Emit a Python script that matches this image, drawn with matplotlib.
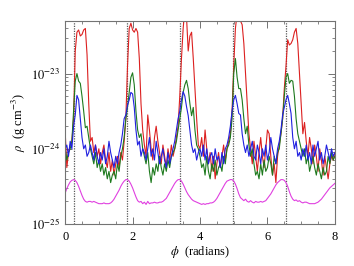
import numpy as np
import matplotlib
matplotlib.use("Agg")
import matplotlib.pyplot as plt
from matplotlib.ticker import FixedLocator, MultipleLocator, NullFormatter

plt.rcParams["font.family"] = ["Liberation Serif", "DejaVu Serif"]
plt.rcParams["mathtext.fontset"] = "stix"

# azimuthal angle grid (radians)
phi = np.linspace(0.0, 8.0, 161)

# positions of the spiral-arm crossings (dotted lines)
arm_phi = [0.27, 1.84, 3.41, 4.98, 6.55]

# y-axis decades
y_major = [1e-25, 1e-24, 1e-23]

# log10 density
log_red = [
    -23.76, -24.25, -24.05, -23.95, -23.9, -23.6,
    -22.7, -22.45, -22.42, -22.5, -22.48, -22.42, -22.4, -22.75, -23.4, -23.9,
    -23.85, -24.05, -23.95, -24.1, -24.0, -24.2, -24.05, -23.95, -24.15, -24.25,
    -24.05, -24.3, -24.15, -24.35, -24.2, -24.1, -24.25, -24.05, -24.15, -23.9,
    -23.6, -22.9, -22.4, -22.33, -22.42, -22.45, -22.4, -22.45, -22.8, -23.4, -23.75,
    -23.95, -24.1, -23.55, -23.75, -24.0, -24.15, -23.85, -23.7, -23.9, -24.05,
    -24.2, -23.95, -24.1, -24.25, -24.0, -24.15, -23.95, -24.1, -24.0, -23.85, -23.7,
    -23.3, -22.8, -22.4, -22.15, -22.25, -22.7, -22.5, -22.45, -22.8, -23.2, -23.6, -23.95,
    -24.0, -23.85, -24.1, -23.75, -24.0, -24.2, -24.05, -24.3, -24.1, -24.4,
    -24.2, -24.05, -24.25, -24.1, -23.95, -24.15, -24.0, -23.9, -23.8,
    -23.5, -22.9, -22.4, -22.2, -22.25, -22.3, -22.35, -22.6, -23.0, -23.4, -23.8,
    -24.0, -24.2, -23.9, -24.1, -24.3, -24.05, -23.85, -24.1, -24.25, -24.0,
    -23.75, -23.8, -24.1, -24.35, -24.2, -24.45, -24.1, -23.95, -23.8, -23.6,
    -23.2, -22.9, -22.55, -22.62, -22.6, -22.55, -22.45, -22.4, -22.6, -23.0, -23.4,
    -23.8, -23.65, -23.9, -24.1, -23.85, -24.0, -24.2, -23.95, -24.1, -24.3,
    -24.0, -24.15, -24.35, -24.1, -24.25, -24.4, -24.2, -24.1, -24.15, -24.05,
]

log_green = [
    -24.0, -24.15, -24.05, -24.0, -23.9, -23.5,
    -23.1, -23.0, -23.1, -23.13, -23.3, -23.5, -23.72, -23.7, -23.85, -24.0,
    -24.1, -24.2, -24.05, -24.25, -24.15, -24.3, -24.2, -24.35, -24.25, -24.4,
    -24.3, -24.45, -24.35, -24.3, -24.4, -24.2, -24.3, -24.1, -24.0, -23.85,
    -23.6, -23.45, -23.25, -23.05, -22.99, -23.15, -23.5, -23.75, -23.85, -23.8, -24.0,
    -24.1, -24.2, -24.05, -24.3, -24.45, -24.25, -24.35, -24.2, -24.3, -24.1,
    -24.25, -24.35, -24.2, -24.3, -24.15, -24.25, -24.1, -24.05, -24.0, -23.9, -23.75,
    -23.6, -23.45, -23.25, -23.15, -23.09, -23.2, -23.4, -23.56, -23.45, -23.75, -23.95, -24.0,
    -24.1, -24.25, -24.2, -24.35, -24.1, -24.3, -24.4, -24.2, -24.3, -24.15,
    -24.35, -24.25, -24.2, -24.3, -24.1, -24.2, -24.0, -23.95, -23.85,
    -23.6, -23.0, -22.8, -23.05, -23.2, -23.2, -23.35, -23.6, -23.8, -23.7, -23.95,
    -24.1, -24.0, -24.2, -24.35, -24.3, -24.4, -24.2, -24.35, -24.15, -24.3,
    -24.25, -24.1, -24.2, -24.35, -24.1, -24.2, -24.05, -24.0, -23.8, -23.6,
    -23.3, -23.05, -23.0, -23.13, -23.09, -23.1, -23.3, -23.6, -23.8, -23.9, -24.0,
    -24.1, -24.0, -24.2, -24.1, -24.3, -24.2, -24.1, -24.25, -24.35, -24.2,
    -24.3, -24.4, -24.25, -24.35, -24.3, -24.1, -24.2, -24.05, -24.15, -24.1,
]

log_blue = [
    -24.0, -23.95, -24.1, -23.9, -24.0, -23.7,
    -23.55, -23.29, -23.35, -23.6, -23.85, -24.0, -23.95, -24.1, -24.05, -23.95,
    -24.05, -24.15, -23.95, -24.1, -24.2, -24.05, -24.15, -24.0, -24.2, -24.1,
    -23.9, -24.05, -24.15, -24.25, -24.1, -24.2, -24.05, -23.95, -23.8, -23.6,
    -23.55, -23.42, -23.35, -23.25, -23.27, -23.45, -23.75, -23.95, -23.9, -24.1, -24.0,
    -24.05, -24.15, -24.0, -23.85, -24.1, -24.0, -24.15, -23.9, -24.05, -24.2,
    -24.1, -24.0, -24.15, -24.25, -24.05, -24.2, -24.1, -24.0, -23.9, -23.75, -23.6,
    -23.5, -23.35, -23.24, -23.3, -23.44, -23.56, -23.75, -23.95, -24.05, -24.0, -24.15, -24.05,
    -24.0, -24.1, -23.95, -24.15, -24.0, -24.2, -24.1, -24.05, -24.2, -24.0,
    -24.15, -24.1, -24.25, -24.05, -24.2, -24.0, -23.95, -23.85, -23.7,
    -23.5, -23.35, -23.29, -23.4, -23.53, -23.55, -23.8, -23.95, -24.05, -23.95, -24.1,
    -24.0, -23.9, -24.1, -24.15, -23.95, -24.05, -24.2, -24.0, -24.1, -23.95,
    -24.15, -24.05, -23.85, -24.0, -24.1, -24.2, -24.0, -23.9, -23.75, -23.55,
    -23.45, -23.35, -23.29, -23.4, -23.53, -23.85, -24.0, -23.9, -24.1, -24.05, -24.15,
    -24.0, -24.1, -23.95, -24.15, -24.05, -24.2, -23.95, -24.1, -24.0, -23.9,
    -24.15, -24.05, -24.2, -24.1, -23.95, -24.05, -24.15, -24.0, -24.1, -24.05,
]

log_magenta = [
    -24.59, -24.53, -24.48, -24.44, -24.42, -24.41, -24.42, -24.45, -24.5, -24.56,
    -24.62, -24.67, -24.7, -24.71, -24.7, -24.7, -24.71, -24.7, -24.71, -24.72,
    -24.73, -24.73, -24.73, -24.72, -24.73, -24.73, -24.73, -24.72, -24.7, -24.67,
    -24.63, -24.59, -24.55, -24.5, -24.46, -24.43, -24.41, -24.41, -24.43, -24.47,
    -24.52, -24.58, -24.64, -24.69, -24.71, -24.7, -24.73, -24.71, -24.74, -24.7,
    -24.73, -24.72, -24.72, -24.71, -24.72, -24.72, -24.71, -24.71, -24.7, -24.68,
    -24.66, -24.62, -24.58, -24.54, -24.5, -24.46, -24.43, -24.41, -24.41, -24.43,
    -24.47, -24.52, -24.57, -24.61, -24.64, -24.67, -24.69, -24.7, -24.71, -24.72,
    -24.73, -24.74, -24.73, -24.74, -24.73, -24.73, -24.72, -24.72, -24.71, -24.69,
    -24.66, -24.62, -24.58, -24.54, -24.5, -24.46, -24.43, -24.42, -24.41, -24.41,
    -24.43, -24.47, -24.53, -24.6, -24.65, -24.67, -24.69, -24.67, -24.7, -24.71,
    -24.69, -24.71, -24.72, -24.7, -24.71, -24.71, -24.7, -24.71, -24.7, -24.69,
    -24.66, -24.63, -24.6, -24.56, -24.52, -24.48, -24.45, -24.43, -24.41, -24.41,
    -24.42, -24.45, -24.5, -24.57, -24.63, -24.67, -24.69, -24.68, -24.7, -24.69,
    -24.71, -24.72, -24.71, -24.71, -24.72, -24.73, -24.73, -24.73, -24.73, -24.72,
    -24.71, -24.69, -24.67, -24.64, -24.61, -24.58, -24.55, -24.52, -24.5, -24.48,
    -24.46,
]

fig = plt.figure(figsize=(3.54, 2.66), dpi=100)
ax = fig.add_axes([0.184, 0.158, 0.762, 0.763])

for x0 in arm_phi:
    ax.axvline(x0, color="0.35", ls=(0, (1, 1)), lw=0.9, zorder=1)

ax.plot(phi, 10.0 ** np.array(log_magenta), color="#e040e0", lw=0.8)
ax.plot(phi, 10.0 ** np.array(log_red), color="#dc2020", lw=0.8)
ax.plot(phi, 10.0 ** np.array(log_green), color="#1e7a1e", lw=0.8)
ax.plot(phi, 10.0 ** np.array(log_blue), color="#2020e0", lw=0.8)

ax.set_yscale("log")
ax.set_xlim(0, 8)
ax.set_ylim(1e-25, 5e-23)
ax.xaxis.set_major_locator(MultipleLocator(2))
ax.xaxis.set_minor_locator(MultipleLocator(0.5))

y_minor = [m * d for d in y_major for m in range(2, 10) if m * d <= 5e-23]
ax.yaxis.set_major_locator(FixedLocator(y_major))
ax.yaxis.set_minor_locator(FixedLocator(y_minor))
ax.yaxis.set_minor_formatter(NullFormatter())
ax.set_yticks(y_major, [r"$10^{-25}$", r"$10^{-24}$", r"$10^{-23}$"])

for s in ax.spines.values():
    s.set_color("0.45")
    s.set_linewidth(0.8)
ax.tick_params(which="both", direction="in", top=True, right=True,
               color="0.45", labelsize=9)
ax.tick_params(which="major", length=5, width=0.7)
ax.tick_params(which="minor", length=2.5, width=0.6)
ax.tick_params(axis="x", pad=5)

ax.set_xlabel(r"$\phi$  (radians)", fontsize=9, labelpad=1)
ax.set_ylabel(r"$\rho$  (g cm$^{-3}$)", fontsize=9, labelpad=2)

fig.savefig("out.png", dpi=100)
